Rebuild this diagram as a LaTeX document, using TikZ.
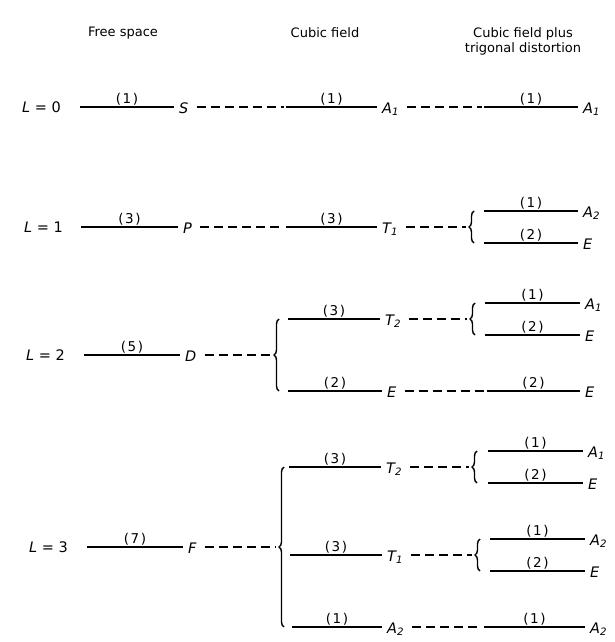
\documentclass[tikz,border=0pt]{standalone}
\usepackage{fontspec}
\setmainfont{DejaVu Sans}
\usetikzlibrary{decorations.pathreplacing}
\newcommand\lvline[6]{%
  \coordinate (#1-s) at (#2,#4);
  \coordinate (#1-e) at (#3,#4);
  \draw[lvl] (#1-s) -- node[deg]{(\kern1.5pt#5\kern1.5pt)} (#1-e);
  \node[sym] (#1) at (#3+5,#4+6) {#6};
}
\begin{document}
\begin{tikzpicture}[x=1pt,y=-1pt,
  lvl/.style={line width=1.4pt},
  conn/.style={line width=1.4pt, dash pattern=on 9pt off 5pt, shorten <=8pt, shorten >=2pt},
  brc/.style={line width=1.4pt, decorate, decoration={brace, amplitude=5pt}},
  deg/.style={font=\fontsize{13.5}{13.5}\selectfont, above=0.5pt, inner sep=1pt},
  sym/.style={anchor=base west, inner sep=0pt, font=\fontsize{14.5}{14.5}\selectfont\itshape},
  hdr/.style={font=\fontsize{13}{15}\selectfont, align=center},
  lbl/.style={anchor=base west, inner sep=0pt, font=\fontsize{14.5}{14.5}\selectfont}
]
\useasboundingbox (0,0) rectangle (615,642);

% headers
\node[hdr] (h1) at (123,33) {Free space};
\node[hdr] (h2) at (325,33) {Cubic field};
\node[hdr] (h3) at (523,41) {Cubic field plus\\trigonal distortion};

% L = 0
\node[lbl] (L0) at (22,112) {\textit{L} = 0};
\lvline{S}{80}{174}{107}{1}{S}
\lvline{A0}{286}{377}{107}{1}{A\textsubscript{1}}
\lvline{A0t}{484}{578}{107}{1}{A\textsubscript{1}}
\draw[conn] (S.east |- S-e) -- (A0-s);
\draw[conn] (A0.east |- A0-e) -- (A0t-s);

% L = 1
\node[lbl] (L1) at (24,232) {\textit{L} = 1};
\lvline{P}{81}{178}{227}{3}{P}
\lvline{T1a}{286}{377}{227}{3}{T\textsubscript{1}}
\coordinate (b1-bot) at (474,243);
\coordinate (b1-top) at (474,211);
\coordinate (b1-tip) at (468,227);
\draw[brc] (b1-bot) -- (b1-top);
\lvline{A2a}{484}{578}{211}{1}{A\textsubscript{2}}
\lvline{Ea}{484}{578}{243}{2}{E}
\draw[conn] (P.east |- P-e) -- (T1a-s);
\draw[conn] (T1a.east |- T1a-e) -- (b1-tip);

% L = 2
\node[lbl] (L2) at (26,360) {\textit{L} = 2};
\lvline{D}{84}{180}{355}{5}{D}
\coordinate (b2-bot) at (279,391);
\coordinate (b2-top) at (279,319);
\coordinate (b2-tip) at (273,355);
\draw[brc] (b2-bot) -- (b2-top);
\lvline{T2b}{288}{380}{319}{3}{T\textsubscript{2}}
\lvline{Eb}{288}{382}{391}{2}{E}
\coordinate (b3-bot) at (475,335);
\coordinate (b3-top) at (475,303);
\coordinate (b3-tip) at (469,319);
\draw[brc] (b3-bot) -- (b3-top);
\lvline{A1b}{485}{580}{303}{1}{A\textsubscript{1}}
\lvline{Ebt}{485}{580}{335}{2}{E}
\lvline{Ebb}{487}{580}{391}{2}{E}
\draw[conn] (D.east |- D-e) -- (b2-tip);
\draw[conn] (T2b.east |- T2b-e) -- (b3-tip);
\draw[conn] (Eb.east |- Eb-e) -- (Ebb-s);

% L = 3
\node[lbl] (L3) at (29,552) {\textit{L} = 3};
\lvline{F}{87}{183}{547}{7}{F}
\coordinate (b4-bot) at (284,627);
\coordinate (b4-top) at (284,467);
\coordinate (b4-tip) at (278,547);
\draw[brc] (b4-bot) -- (b4-top);
\lvline{T2c}{289}{381}{467}{3}{T\textsubscript{2}}
\lvline{T1c}{290}{382}{555}{3}{T\textsubscript{1}}
\lvline{A2c}{292}{382}{627}{1}{A\textsubscript{2}}
\coordinate (b5-bot) at (477,483);
\coordinate (b5-top) at (477,451);
\coordinate (b5-tip) at (471,467);
\draw[brc] (b5-bot) -- (b5-top);
\lvline{A1c}{488}{583}{451}{1}{A\textsubscript{1}}
\lvline{Ec}{488}{583}{483}{2}{E}
\coordinate (b6-bot) at (480,571);
\coordinate (b6-top) at (480,539);
\coordinate (b6-tip) at (474,555);
\draw[brc] (b6-bot) -- (b6-top);
\lvline{A2d}{490}{585}{539}{1}{A\textsubscript{2}}
\lvline{Ed}{490}{585}{571}{2}{E}
\lvline{A2e}{484}{585}{627}{1}{A\textsubscript{2}}
\draw[conn] (F.east |- F-e) -- (b4-tip);
\draw[conn] (T2c.east |- T2c-e) -- (b5-tip);
\draw[conn] (T1c.east |- T1c-e) -- (b6-tip);
\draw[conn] (A2c.east |- A2c-e) -- (A2e-s);
\end{tikzpicture}
\end{document}
